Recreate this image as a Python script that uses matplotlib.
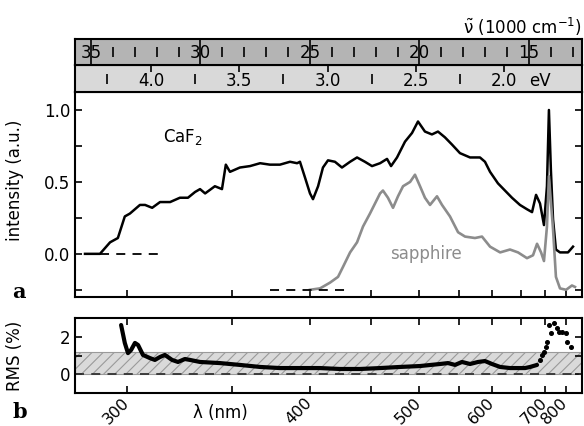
import numpy as np
import matplotlib
matplotlib.use("Agg")
import matplotlib.pyplot as plt

plt.rcParams['font.family'] = ['DejaVu Sans']
plt.rcParams['font.size'] = 12
plt.rcParams['mathtext.default'] = 'regular'
plt.rcParams['hatch.linewidth'] = 0.8
plt.rcParams['hatch.color'] = '#8a8a8a'

# ---- data (wavelength in nm) ----
caf2_nm = [283.5, 289.1, 293.0, 296.1, 298.9, 301.0, 305.2, 307.4, 310.5, 314.0,
           318.6, 323.2, 327.1, 330.6, 333.1, 335.7, 340.8, 344.6, 346.7, 349.0,
           354.6, 360.5, 366.6, 372.7, 379.2, 385.9, 390.8, 392.8, 396.4, 400.0,
           402.2, 406.0, 409.7, 413.6, 419.1, 424.8, 431.6, 437.6, 444.6, 451.1,
           458.7, 465.5, 469.5, 475.6, 484.0, 491.6, 498.3, 506.3, 514.6, 522.0,
           530.8, 540.0, 550.9, 565.2, 580.1, 587.9, 596.0, 609.1, 621.2, 633.8,
           648.8, 662.6, 672.9, 681.3, 689.8, 698.5, 705.2, 709.7, 714.3, 719.3,
           726.2, 736.1, 756.5, 769.8]
caf2_int = [0.0, 0.0, 0.08, 0.11, 0.26, 0.28, 0.34, 0.34, 0.32, 0.36,
            0.36, 0.39, 0.39, 0.43, 0.45, 0.42, 0.47, 0.45, 0.62, 0.57,
            0.60, 0.61, 0.63, 0.62, 0.62, 0.64, 0.63, 0.64, 0.53, 0.42,
            0.38, 0.47, 0.60, 0.65, 0.64, 0.60, 0.64, 0.67, 0.64, 0.61,
            0.63, 0.66, 0.61, 0.67, 0.78, 0.84, 0.92, 0.85, 0.83, 0.85,
            0.81, 0.76, 0.70, 0.67, 0.67, 0.64, 0.57, 0.49, 0.44, 0.39,
            0.34, 0.31, 0.29, 0.41, 0.35, 0.20, 0.47, 1.0, 0.58, 0.24,
            0.03, 0.01, 0.01, 0.05]

sap_nm = [400.0, 407.5, 415.2, 421.6, 425.7, 431.6, 437.6, 442.9, 449.2, 453.9,
          458.7, 461.5, 466.4, 471.5, 476.6, 481.9, 489.5, 494.9, 500.6, 506.3,
          512.3, 520.8, 527.1, 537.4, 548.3, 558.0, 572.5, 583.2, 596.0, 612.8,
          630.2, 645.1, 662.6, 674.9, 683.4, 692.1, 698.5, 705.2, 709.7, 719.3,
          726.2, 736.1, 751.5, 766.9, 775.2]
sap_int = [-0.25, -0.24, -0.20, -0.16, -0.09, 0.01, 0.08, 0.19, 0.28, 0.35,
           0.42, 0.44, 0.39, 0.32, 0.40, 0.47, 0.50, 0.55, 0.47, 0.39,
           0.34, 0.40, 0.34, 0.26, 0.15, 0.12, 0.11, 0.12, 0.05, 0.01,
           0.03, 0.01, -0.03, -0.01, 0.07, 0.01, -0.05, 0.19, 0.54, 0.17,
           -0.16, -0.24, -0.25, -0.22, -0.23]

caf2_zero_nm = [289.0, 315.0]
sap_zero_nm = [373.0, 427.0]
sap_offset = -0.25

rms_nm = [297.4, 298.9, 300.2, 301.5, 303.1, 304.4, 306.5, 309.5, 311.7, 314.0,
          316.2, 319.5, 322.3, 325.6, 328.1, 333.1, 343.5, 354.6, 366.6, 379.2,
          392.8, 400.0, 407.5, 423.2, 440.1, 458.7, 478.7, 500.6, 524.6, 534.8,
          544.1, 553.7, 565.2, 577.1, 587.9, 599.2, 612.8, 630.2, 658.8, 668.9,
          683.4]
rms_val = [2.65, 1.68, 1.13, 1.30, 1.68, 1.57, 1.03, 0.86, 0.76, 0.92,
           1.03, 0.76, 0.65, 0.81, 0.76, 0.65, 0.59, 0.49, 0.38, 0.32,
           0.32, 0.32, 0.32, 0.27, 0.27, 0.32, 0.38, 0.43, 0.54, 0.59,
           0.49, 0.65, 0.54, 0.65, 0.70, 0.54, 0.38, 0.32, 0.32, 0.38,
           0.49]
dot_nm = [689.7, 694.0, 698.5, 703.0, 705.2, 709.7, 714.3, 721.5, 728.8, 733.7,
          741.3, 751.3, 754.1, 764.5]
dot_val = [0.76, 1.03, 1.19, 1.46, 1.73, 2.65, 2.22, 2.76, 2.49, 2.27,
           2.27, 2.22, 1.73, 1.46]
rms_limit = 1.2

# axis ticks
wn_major = [35, 30, 25, 20, 15]
wn_minor = [34, 33, 32, 31, 29, 28, 27, 26, 24, 23, 22, 21, 19, 18, 17, 16, 14, 13]
ev_major = [4.0, 3.5, 3.0, 2.5, 2.0]
ev_minor = [4.25, 3.75, 3.25, 2.75, 2.25]
nm_ticks = [300, 400, 500, 600, 700, 750]
nm_labels = ['300', '400', '500', '600', '700', '800']
nm_minor = [350, 450, 550, 650]

EV2K = 8.06554  # 1 eV in 1000 cm^-1
def to_k(nm):
    return 1e4 / np.asarray(nm, dtype=float)

xlim = (35.73, 12.58)

fig = plt.figure(figsize=(5.84, 4.26), dpi=100)
W, H = 584.0, 426.0
def box(x0, y0, x1, y1):
    return [x0 / W, 1 - y1 / H, (x1 - x0) / W, (y1 - y0) / H]

ax = fig.add_axes(box(75, 92, 582, 297))
axe = fig.add_axes(box(75, 65, 582, 92))
axw = fig.add_axes(box(75, 39, 582, 65))
axr = fig.add_axes(box(75, 318, 582, 393))

for a in (ax, axe, axw, axr):
    a.set_xlim(xlim)
    for s in a.spines.values():
        s.set_linewidth(1.5)

# ---- main panel ----
ax.plot(to_k(caf2_nm), caf2_int, color='black', lw=1.8)
ax.plot(to_k(sap_nm), sap_int, color='#8c8c8c', lw=1.9)
ax.plot(to_k(caf2_zero_nm), [0, 0], color='black', lw=1.3, dashes=(5, 4))
ax.plot(to_k(sap_zero_nm), [sap_offset, sap_offset], color='black', lw=1.3, dashes=(5, 4))
ax.text(30.8, 0.81, 'CaF$_2$', ha='center', va='center', fontsize=12)
ax.text(19.7, 0.0, 'sapphire', ha='center', va='center', fontsize=12, color='#8c8c8c')
ax.set_ylim(-0.30, 1.125)
ax.set_yticks([0.0, 0.5, 1.0])
ax.set_yticklabels(['0.0', '0.5', '1.0'])
ax.set_yticks([-0.25, 0.25, 0.75], minor=True)
ax.set_xticks(to_k(nm_ticks))
ax.set_xticks(to_k(nm_minor), minor=True)
ax.tick_params(axis='both', which='both', direction='in', length=5, width=1.2,
               right=True, top=False, labelbottom=False)
ax.set_ylabel('intensity (a.u.)', fontsize=12)
ax.yaxis.set_label_coords(-0.10, 0.57)

# ---- eV band ----
axe.set_facecolor('#d9d9d9')
axe.set_ylim(0, 1)
axe.set_yticks([])
ev_major_k = [e * EV2K for e in ev_major]
axe.set_xticks(ev_major_k)
axe.tick_params(axis='x', direction='in', length=5, width=1.2, bottom=False,
                top=True, labelbottom=False)
tre = axe.get_xaxis_transform()
for e, k in zip(ev_major, ev_major_k):
    axe.text(k, 0.42, f'{e:.1f}', ha='center', va='center', fontsize=12, transform=tre)
axe.plot([e * EV2K for e in ev_minor], [0.5] * len(ev_minor), ls='none', marker='|',
         ms=7, mew=1.2, color='black', transform=tre)
axe.text(14.5, 0.42, 'eV', ha='center', va='center', fontsize=12, transform=tre)

# ---- wavenumber band ----
axw.set_facecolor('#b4b4b4')
axw.set_ylim(0, 1)
axw.set_yticks([])
axw.set_xticks(wn_major)
axw.tick_params(axis='x', direction='in', length=19, width=1.2, bottom=True,
                labelbottom=False)
trw = axw.get_xaxis_transform()
for k in wn_major:
    axw.text(k, 0.45, str(k), ha='center', va='center', fontsize=12, transform=trw)
axw.plot(wn_minor, [0.5] * len(wn_minor), ls='none', marker='|', ms=7, mew=1.2,
         color='black', transform=trw)
axw.text(1.0, 1.45, r'$\tilde{\nu}$ (1000 cm$^{-1}$)', ha='right', va='center',
         fontsize=12, transform=axw.transAxes)

# ---- RMS panel ----
axr.axhspan(0, rms_limit, facecolor='#dadada', edgecolor='#9a9a9a', hatch='///', lw=0.8)
axr.axhline(0, color='#333333', lw=1.3, dashes=(5, 4))
axr.plot(to_k(rms_nm), rms_val, color='black', lw=3.0, solid_capstyle='round')
axr.plot(to_k(dot_nm), dot_val, ls='none', marker='o', ms=2.6, color='black')
axr.set_ylim(-1.03, 3.03)
axr.set_yticks([0, 2])
axr.set_yticks([1], minor=True)
axr.set_xticks(to_k(nm_ticks))
axr.set_xticks(to_k(nm_minor), minor=True)
axr.set_xticklabels(nm_labels, rotation=45, ha='right', va='center',
                    rotation_mode='anchor', fontsize=11.5)
axr.tick_params(axis='both', which='both', direction='in', length=5, width=1.2,
                right=True, top=True)
axr.tick_params(axis='x', pad=5)
axr.set_ylabel('RMS (%)', fontsize=12)
axr.yaxis.set_label_coords(-0.10, 0.5)
axr.set_xlabel('λ (nm)', fontsize=12)
axr.xaxis.set_label_coords(0.286, -0.27)
axr.xaxis.label.set_va('center')

fig.text(19 / W, 1 - 292 / H, 'a', fontsize=15, fontweight='bold', family='DejaVu Serif',
         ha='center', va='center')
fig.text(20 / W, 1 - 412 / H, 'b', fontsize=15, fontweight='bold', family='DejaVu Serif',
         ha='center', va='center')

fig.savefig('out.png', dpi=100)
